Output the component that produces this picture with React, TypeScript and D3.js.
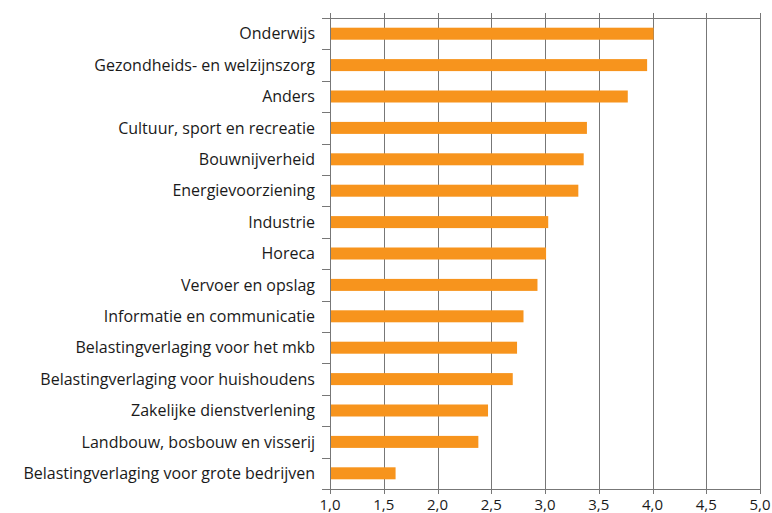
import React, { useEffect, useRef } from 'react';
import * as d3 from 'd3';

// Sectors, top to bottom
const categories = [
  'Onderwijs',
  'Gezondheids- en welzijnszorg',
  'Anders',
  'Cultuur, sport en recreatie',
  'Bouwnijverheid',
  'Energievoorziening',
  'Industrie',
  'Horeca',
  'Vervoer en opslag',
  'Informatie en communicatie',
  'Belastingverlaging voor het mkb',
  'Belastingverlaging voor huishoudens',
  'Zakelijke dienstverlening',
  'Landbouw, bosbouw en visserij',
  'Belastingverlaging voor grote bedrijven',
];

const values = [4.01, 3.95, 3.77, 3.39, 3.36, 3.31, 3.03, 3.01, 2.93, 2.8, 2.74, 2.7, 2.47, 2.38, 1.61];

const ticks = [1.0, 1.5, 2.0, 2.5, 3.0, 3.5, 4.0, 4.5, 5.0];

const W = 772;
const H = 513;
const margin = { top: 18, right: 12, bottom: 24, left: 330 };
const FONT = "'Open Sans', sans-serif";

export default function App() {
  const ref = useRef<SVGSVGElement>(null);

  useEffect(() => {
    const svg = d3.select(ref.current);
    svg.selectAll('*').remove();

    const x = d3.scaleLinear().domain([1, 5]).range([margin.left, W - margin.right]);
    const y = d3.scaleBand().domain(categories).range([margin.top, H - margin.bottom]).paddingInner(0).paddingOuter(0);
    const top = margin.top;
    const bottom = H - margin.bottom;

    // vertical gridlines with small ticks above and below
    svg.append('g')
      .selectAll('line')
      .data(ticks)
      .join('line')
      .attr('x1', d => Math.round(x(d)) + 0.5)
      .attr('x2', d => Math.round(x(d)) + 0.5)
      .attr('y1', top - 5)
      .attr('y2', bottom + 5)
      .attr('stroke', '#777')
      .attr('stroke-width', 1);

    // top and bottom horizontal lines
    [top, bottom].forEach(yy => {
      svg.append('line')
        .attr('x1', x(1)).attr('x2', x(5))
        .attr('y1', yy + 0.5).attr('y2', yy + 0.5)
        .attr('stroke', '#777');
    });

    // left axis ticks at band boundaries
    const bounds = categories.map(c => y(c) as number).concat([bottom]);
    svg.append('g')
      .selectAll('line')
      .data(bounds)
      .join('line')
      .attr('x1', x(1) - 8)
      .attr('x2', x(1))
      .attr('y1', d => Math.round(d) + 0.5)
      .attr('y2', d => Math.round(d) + 0.5)
      .attr('stroke', '#777');

    // bars
    const barH = 12;
    svg.append('g')
      .selectAll('rect')
      .data(values)
      .join('rect')
      .attr('x', x(1) + 1)
      .attr('y', (d, i) => (y(categories[i]) as number) + y.bandwidth() / 2 - barH / 2)
      .attr('width', d => x(d) - x(1) - 1)
      .attr('height', barH)
      .attr('fill', '#F7941D');

    // category labels
    svg.append('g')
      .selectAll('text')
      .data(categories)
      .join('text')
      .attr('x', x(1) - 15)
      .attr('y', d => (y(d) as number) + y.bandwidth() / 2)
      .attr('dy', '0.35em')
      .attr('text-anchor', 'end')
      .attr('font-family', FONT)
      .attr('font-size', 16)
      .attr('fill', '#1a1a1a')
      .text(d => d);

    // x tick labels
    svg.append('g')
      .selectAll('text')
      .data(ticks)
      .join('text')
      .attr('x', d => x(d))
      .attr('y', bottom + 21)
      .attr('text-anchor', 'middle')
      .attr('font-family', FONT)
      .attr('font-size', 15)
      .attr('fill', '#1a1a1a')
      .text(d => d3.format('.1f')(d).replace('.', ','));
  }, []);

  return (
    <div style={{ position: 'absolute', left: 0, top: 0, background: '#fff' }}>
      <svg ref={ref} width={W} height={H} />
    </div>
  );
}
